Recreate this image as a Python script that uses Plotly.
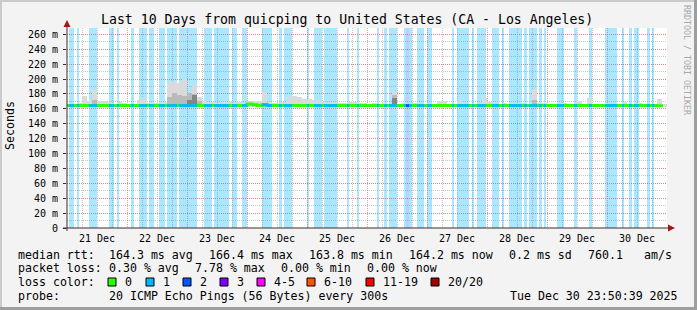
import pandas as pd
import plotly.graph_objects as go

# ---------------- data ----------------
window_start = pd.Timestamp("2025-12-21 00:00")
window_days = 10
y_max_ms = 268.5
y_tick_ms = [0, 20, 40, 60, 80, 100, 120, 140, 160, 180, 200, 220, 240, 260]
y_tick_text = ["0", "20 m", "40 m", "60 m", "80 m", "100 m", "120 m", "140 m",
               "160 m", "180 m", "200 m", "220 m", "240 m", "260 m"]

# loss periods (hours after window start)
loss1_start_h = [0.8, 4.0, 8.8, 16.8, 20.0, 25.6, 28.8, 32.8, 36.8, 40.0, 44.8, 54.8,
                 58.8, 66.0, 70.0, 78.0, 84.8, 86.8, 96.0, 98.8, 102.8, 112.0, 116.0,
                 124.0, 126.8, 128.8, 134.8, 136.8, 140.0, 144.0, 154.0, 156.0, 162.0,
                 164.0, 170.0, 174.0, 176.8, 182.8, 184.8, 188.8, 190.8, 196.0, 202.8,
                 208.8, 215.2, 222.0, 224.8, 226.8, 232.0, 234.0]
loss1_end_h = [2.8, 4.8, 12.0, 18.8, 20.8, 26.8, 32.0, 34.8, 39.2, 44.0, 52.0, 58.0,
               64.8, 68.0, 72.0, 82.0, 86.0, 90.0, 96.8, 102.0, 108.0, 112.8, 116.8,
               124.8, 128.0, 132.0, 135.6, 138.0, 142.8, 146.0, 154.8, 160.8, 162.8,
               167.6, 172.8, 174.8, 182.0, 184.0, 188.0, 190.0, 191.6, 198.8, 204.0,
               210.0, 220.0, 222.8, 226.0, 228.8, 233.2, 234.8]
loss2_start_h = [135.6]
loss2_end_h = [136.8]

# 2-hour bins
bin_hours = 2
data_end_h = 238.4
median_ms = [
    164.3, 164.3, 164.3, 164.3, 164.3, 164.3, 164.3, 164.3, 164.3, 164.3, 164.3, 164.3,
    164.3, 164.3, 164.3, 164.3, 164.3, 164.3, 164.3, 164.3, 164.3, 164.3, 164.3, 164.3,
    164.3, 164.3, 164.3, 164.3, 164.3, 164.3, 164.3, 164.3, 164.3, 164.3, 164.3, 164.3,
    166.4, 165.5, 164.5, 165.6, 164.3, 164.3, 164.3, 164.3, 164.3, 164.3, 164.3, 164.3,
    164.3, 164.3, 164.3, 164.3, 164.3, 164.3, 164.3, 164.3, 164.3, 164.3, 164.3, 164.3,
    164.3, 164.3, 164.3, 164.3, 164.3, 164.3, 164.3, 164.3, 164.3, 164.3, 164.3, 164.3,
    164.3, 164.3, 164.3, 164.3, 164.3, 164.3, 164.3, 164.3, 164.3, 164.3, 164.3, 164.3,
    164.3, 164.3, 164.3, 164.3, 164.3, 164.3, 164.3, 164.3, 164.3, 164.3, 164.3, 164.3,
    164.3, 164.3, 164.3, 164.3, 164.3, 164.3, 164.3, 164.3, 164.3, 164.3, 164.3, 164.3,
    164.3, 164.3, 164.3, 164.3, 164.3, 164.3, 164.3, 164.3, 164.3, 164.3, 164.2, 164.2,
]
smoke_floor_ms = 163.0
smoke_top_ms = [
    167, 167, 168, 177, 170, 185, 170, 170, 169, 167, 169, 168,
    167, 167, 172, 174, 168, 168, 168, 169, 194, 197, 195, 200,
    181, 192, 176, 170, 169, 169, 168, 169, 169, 168, 169, 168,
    170, 170, 171, 182, 169, 168, 168, 169, 176, 177, 176, 173,
    173, 172, 170, 169, 168, 169, 168, 168, 169, 169, 168, 168,
    167, 168, 167, 168, 167, 183, 167, 168, 167, 168, 168, 167,
    167, 167, 170, 170, 167, 167, 170, 168, 167, 167, 167, 174,
    169, 167, 167, 168, 167, 167, 167, 168, 167, 186, 168, 168,
    167, 167, 167, 168, 167, 167, 170, 167, 174, 167, 167, 167,
    168, 167, 167, 169, 167, 167, 168, 167, 167, 167, 173, 167,
]
smoke_mid_bins = [5, 20, 21, 22, 23, 24, 25, 26, 65, 93]
smoke_mid_ms = [172, 176, 181, 178, 177, 181, 180, 170, 178, 172]
smoke_dark_bins = [24, 25, 65]
smoke_dark_ms = [172, 179, 175]

legend_colors = ["#26ff00", "#00b8ff", "#0059ff", "#7e00ff", "#ff00ff", "#ff5500", "#ff0000", "#a10000"]
legend_labels = ["0", "1", "2", "3", "4-5", "6-10", "11-19", "20/20"]

# ---------------- geometry helpers (layout only) ----------------
W, H = 697, 310
PL, PR, PT, PB = 67, 667, 28, 228


def px(x):
    return (x - PL) / (PR - PL)


def py(y):
    return (PB - y) / (PB - PT)


def t(h):
    return window_start + pd.Timedelta(hours=h)


FONT = "DejaVu Sans Mono"
fig = go.Figure()


# loss background bars
def loss_bars(starts, ends, rgba):
    centers = [t((s + e) / 2) for s, e in zip(starts, ends)]
    widths = [(e - s) * 3600 * 1000 for s, e in zip(starts, ends)]
    fig.add_trace(go.Bar(x=centers, y=[y_max_ms] * len(starts), width=widths,
                         marker=dict(color=rgba, line=dict(width=0)),
                         hoverinfo="skip", showlegend=False))


loss_bars(loss1_start_h, loss1_end_h, "rgba(0,184,255,0.33)")
loss_bars(loss2_start_h, loss2_end_h, "rgba(0,89,255,0.28)")

# smoke
bin_w = bin_hours * 3600 * 1000
n = len(smoke_top_ms)
fig.add_trace(go.Bar(x=[t(bin_hours * i + bin_hours / 2) for i in range(n)],
                     y=[v - smoke_floor_ms for v in smoke_top_ms], base=smoke_floor_ms,
                     width=bin_w, marker=dict(color="#dadada", line=dict(width=0)),
                     hoverinfo="skip", showlegend=False))
fig.add_trace(go.Bar(x=[t(bin_hours * i + bin_hours / 2) for i in smoke_mid_bins],
                     y=[v - smoke_floor_ms for v in smoke_mid_ms], base=smoke_floor_ms,
                     width=bin_w, marker=dict(color="#bababa", line=dict(width=0)),
                     hoverinfo="skip", showlegend=False))
fig.add_trace(go.Bar(x=[t(bin_hours * i + bin_hours / 2) for i in smoke_dark_bins],
                     y=[v - smoke_floor_ms for v in smoke_dark_ms], base=smoke_floor_ms,
                     width=bin_w, marker=dict(color="#858585", line=dict(width=0)),
                     hoverinfo="skip", showlegend=False))


def median_at(h):
    i = min(int(h // bin_hours), len(median_ms) - 1)
    return median_ms[i]


# median line (green = no loss)
mx = [t(bin_hours * i) for i in range(len(median_ms))] + [t(data_end_h)]
my = list(median_ms) + [median_ms[-1]]
mx = [x for x in mx if x <= t(data_end_h)]
my = my[:len(mx) - 1] + [median_ms[-1]]
fig.add_trace(go.Scatter(x=mx, y=my, mode="lines", line=dict(color="#26ff00", width=3, shape="hv"),
                         hoverinfo="skip", showlegend=False))


def loss_line(starts, ends, color):
    xs, ys = [], []
    for s, e in zip(starts, ends):
        pts = [s] + [b * bin_hours for b in range(1, len(median_ms)) if s < b * bin_hours < e] + [e]
        for p in pts[:-1]:
            xs.append(t(p))
            ys.append(median_at(p))
        xs.append(t(e))
        ys.append(median_at(pts[-2]))
        xs.append(None)
        ys.append(None)
    fig.add_trace(go.Scatter(x=xs, y=ys, mode="lines", line=dict(color=color, width=3, shape="hv"),
                             connectgaps=False, hoverinfo="skip", showlegend=False))


loss_line(loss1_start_h, loss1_end_h, "#00b8ff")
loss_line(loss2_start_h, loss2_end_h, "#0059ff")

# ---------------- decorations ----------------
shapes = []
AX = "#3c2a2a"
ARROW = "#a01818"
# borders
shapes.append(dict(type="rect", xref="paper", yref="paper", x0=px(0), x1=px(W), y0=py(0), y1=py(2),
                   fillcolor="#cbcbcb", line=dict(width=0), layer="above"))
shapes.append(dict(type="rect", xref="paper", yref="paper", x0=px(0), x1=px(2), y0=py(0), y1=py(H),
                   fillcolor="#cbcbcb", line=dict(width=0), layer="above"))
shapes.append(dict(type="rect", xref="paper", yref="paper", x0=px(W - 3), x1=px(W), y0=py(0), y1=py(H),
                   fillcolor="#9e9e9e", line=dict(width=0), layer="above"))
shapes.append(dict(type="rect", xref="paper", yref="paper", x0=px(0), x1=px(W), y0=py(H - 3), y1=py(H),
                   fillcolor="#9e9e9e", line=dict(width=0), layer="above"))
# axes
shapes.append(dict(type="line", xref="paper", yref="paper", x0=px(67), x1=px(67), y0=py(231), y1=py(25),
                   line=dict(color=AX, width=1), layer="above"))
shapes.append(dict(type="line", xref="paper", yref="paper", x0=px(63), x1=px(670), y0=py(228), y1=py(228),
                   line=dict(color=AX, width=1), layer="above"))
shapes.append(dict(type="path", xref="paper", yref="paper",
                   path=f"M {px(67)} {py(20)} L {px(63.5)} {py(27)} L {px(70.5)} {py(27)} Z",
                   fillcolor=ARROW, line=dict(width=0), layer="above"))
shapes.append(dict(type="path", xref="paper", yref="paper",
                   path=f"M {px(675)} {py(228)} L {px(668)} {py(224.5)} L {px(668)} {py(231.5)} Z",
                   fillcolor=ARROW, line=dict(width=0), layer="above"))

annotations = []


def txt(x, y, s, size=11.6, anchor="left", color="#000", angle=0):
    annotations.append(dict(xref="paper", yref="paper", x=px(x), y=py(y), text=s, showarrow=False,
                            xanchor=anchor, yanchor="middle", textangle=angle,
                            font=dict(family=FONT, size=size, color=color)))


txt(346.5, 19, "Last 10 Days from quicping to United States (CA - Los Angeles)", size=13.2, anchor="center")
txt(10, 126, "Seconds", anchor="center", angle=-90)
txt(687, 60, "RRDTOOL / TOBI OETIKER", size=8.3, anchor="center", color="#a8a8a8", angle=90)

# statistics lines
row1 = 254.5
txt(16, row1, "median rtt:")
txt(107, row1, "164.3 ms avg")
txt(207, row1, "166.4 ms max")
txt(307, row1, "163.8 ms min")
txt(407, row1, "164.2 ms now")
txt(507, row1, "0.2 ms sd")
txt(586, row1, "760.1")
txt(642, row1, "am/s")
row2 = 268.3
txt(16, row2, "packet loss:")
txt(107, row2, "0.30 % avg")
txt(193, row2, "7.78 % max")
txt(279, row2, "0.00 % min")
txt(365, row2, "0.00 % now")
row3 = 282
txt(16, row3, "loss color:")
box_x = [108, 146, 183, 220, 257, 307, 366, 431]
for bx, c, lab in zip(box_x, legend_colors, legend_labels):
    shapes.append(dict(type="rect", xref="paper", yref="paper", x0=px(bx), x1=px(bx + 8),
                       y0=py(row3 + 4), y1=py(row3 - 4), fillcolor=c,
                       line=dict(color="#000", width=1), layer="above"))
    txt(bx + 15, row3, lab)
row4 = 295.8
txt(16, row4, "probe:")
txt(107, row4, "20 ICMP Echo Pings (56 Bytes) every 300s")
txt(680, row4, "Tue Dec 30 23:50:39 2025", anchor="right")

fig.update_layout(
    width=W, height=H,
    margin=dict(l=PL, r=W - PR, t=PT, b=H - PB, pad=0),
    paper_bgcolor="#f3f3f3", plot_bgcolor="#ffffff",
    barmode="overlay", bargap=0, showlegend=False,
    shapes=shapes, annotations=annotations,
    xaxis=dict(type="date", range=[window_start, window_start + pd.Timedelta(days=window_days)],
               tick0=window_start, dtick=86400000, tickformat="%d %b", ticklabelmode="period",
               showgrid=True, gridcolor="rgba(230,80,80,0.55)", griddash="1px,1px", gridwidth=1,
               minor=dict(dtick=6 * 3600 * 1000, showgrid=True, gridcolor="#c8c8c8",
                          griddash="1px,1px", gridwidth=1),
               ticks="", showline=False, zeroline=False, fixedrange=True,
               tickfont=dict(family=FONT, size=10, color="#000"), ticklabelstandoff=3),
    yaxis=dict(range=[0, y_max_ms], tickmode="array", tickvals=y_tick_ms, ticktext=y_tick_text,
               showgrid=True, gridcolor="rgba(230,80,80,0.55)", griddash="1px,1px", gridwidth=1,
               minor=dict(dtick=10, tick0=0, showgrid=True, gridcolor="#c8c8c8",
                          griddash="1px,1px", gridwidth=1),
               ticks="outside", ticklen=3, tickcolor=AX, showline=False, zeroline=False,
               tickfont=dict(family=FONT, size=10, color="#000"), ticklabelstandoff=3),
)

fig.write_html("out.html")
